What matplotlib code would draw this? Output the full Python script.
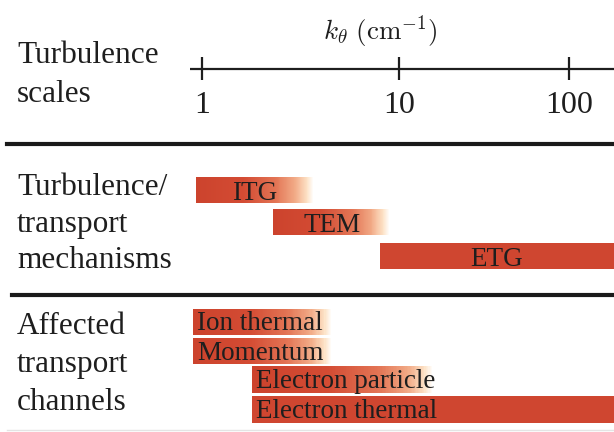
import matplotlib.pyplot as plt
import numpy as np
from matplotlib.colors import LinearSegmentedColormap
from matplotlib.transforms import blended_transform_factory

plt.rcParams['font.family'] = ['Liberation Serif', 'DejaVu Serif']
plt.rcParams['mathtext.fontset'] = 'cm'

# k_theta ticks (cm^-1)
ticks = [1, 10, 100]

# turbulence / transport mechanisms: (start k, end k, fades out?)
mech_names = ['ITG', 'TEM', 'ETG']
mech_start = [0.93, 2.3, 8.0]
mech_end = [3.7, 9.0, 200.0]
mech_fade = [True, True, False]

# affected transport channels
chan_names = ['Ion thermal', 'Momentum', 'Electron particle', 'Electron thermal']
chan_start = [0.9, 0.9, 1.8, 1.8]
chan_end = [4.6, 4.6, 16.0, 200.0]
chan_fade = [True, True, True, False]

left_labels = [['Turbulence', 'scales'],
               ['Turbulence/', 'transport', 'mechanisms'],
               ['Affected', 'transport', 'channels']]

# the drawn axis is not quite log: the 10-100 decade is shorter
R = 170 / 197


def fwd(k):
    u = np.log10(np.clip(k, 1e-9, None))
    return np.where(u <= 1, u, 1 + (u - 1) * R)


def inv(p):
    p = np.asarray(p, dtype=float)
    return 10 ** np.where(p <= 1, p, 1 + (p - 1) / R)


red = '#cf4630'
fade = LinearSegmentedColormap.from_list(
    'fade', [(0, '#cc432d'), (0.4, '#d34b33'), (0.68, '#e37555'),
             (0.85, '#f2ac88'), (0.95, '#fde3c8'), (1.0, '#ffffff')])

fig = plt.figure(figsize=(6.14, 4.32), dpi=100)
ax = fig.add_axes([0, 0, 1, 1])
ax.set_xscale('function', functions=(fwd, inv))
ax.set_xlim(0.0943, 183.9)
ax.set_ylim(432, 0)
ax.axis('off')

txt = '#1e1e1e'
tr = blended_transform_factory(ax.transAxes, ax.transData)


def bar(start, end, y0, y1, faded):
    if faded:
        X = np.geomspace(start, end, 121)
        C = np.linspace(0, 1, 120)[np.newaxis, :]
        ax.pcolormesh(X, [y0, y1], C, cmap=fade, vmin=0, vmax=1,
                      shading='flat', linewidth=0, antialiased=False)
    else:
        ax.barh((y0 + y1) / 2, end - start, left=start, height=y1 - y0,
                color=red, linewidth=0)


# scale axis
ax.plot([0.87, 200], [69, 69], color=txt, lw=1.6, solid_capstyle='butt')
ax.vlines(ticks, 57, 80, color=txt, lw=1.6)
for t in ticks:
    ax.text(t, 113, str(t), ha='center', va='baseline', fontsize=23, color=txt)
ax.text(380 / 614, 32, r'$k_\theta\ (\mathrm{cm}^{-1})$', transform=tr,
        ha='center', va='center', fontsize=19.5, color=txt)

# separators
ax.plot([7 / 614, 1], [144, 144], transform=tr, color='#1a1a1a', lw=3.0)
ax.plot([12 / 614, 1], [294.5, 294.5], transform=tr, color='#1a1a1a', lw=3.0)
ax.plot([7 / 614, 1], [430, 430], transform=tr, color='#e4e4e4', lw=1)

# left labels
baselines = [[63, 102], [195, 232, 268], [334, 372, 410]]
for lines, ys in zip(left_labels, baselines):
    for s, y in zip(lines, ys):
        ax.text(17 / 614, y, s, transform=tr, ha='left', va='baseline',
                fontsize=22.5, color=txt)

# mechanisms
mech_rows = [(177, 203), (209, 235), (243, 269)]
for name, s, e, f, (y0, y1) in zip(mech_names, mech_start, mech_end,
                                   mech_fade, mech_rows):
    bar(s, e, y0, y1, f)
    xc = inv((fwd(s) + fwd(min(e, 183.9))) / 2)
    ax.text(xc, y1 - 3, name, ha='center', va='baseline', fontsize=19.5,
            color=txt)

# channels
chan_rows = [(309, 335), (338, 364), (366, 393), (396, 423)]
for name, s, e, f, (y0, y1) in zip(chan_names, chan_start, chan_end,
                                   chan_fade, chan_rows):
    bar(s, e, y0, y1, f)
    ax.annotate(name, (s, y1 - 4.5), xytext=(3, 0), textcoords='offset points',
                ha='left', va='baseline', fontsize=19.5, color=txt)

fig.savefig('out.png', dpi=100, facecolor='white')
